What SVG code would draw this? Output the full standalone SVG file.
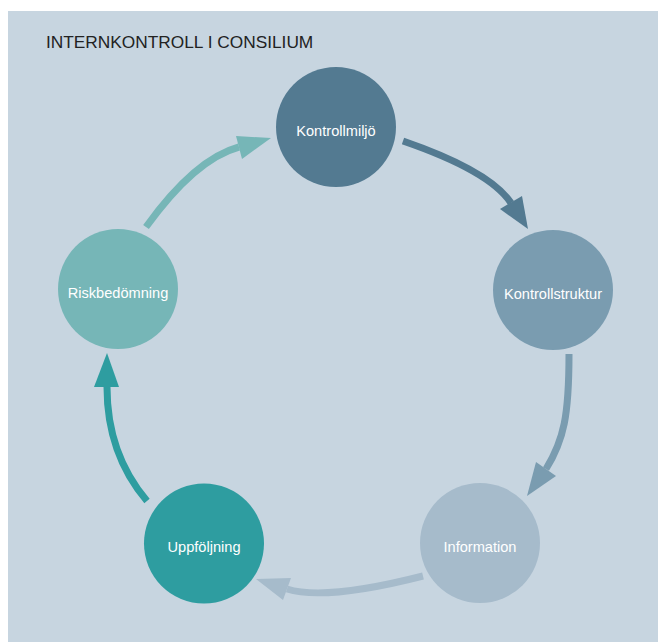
<svg xmlns="http://www.w3.org/2000/svg" width="658" height="642" viewBox="0 0 658 642">
<style>
.lbl{font-family:"Liberation Sans",Arial,sans-serif;font-size:14.6px;fill:#ffffff;text-anchor:middle}
.title{font-family:"Liberation Sans",Arial,sans-serif;font-size:17.3px;fill:#222222}
.ln{fill:none;stroke-width:7}
.c1{fill:#537a91}.s1{stroke:#537a91}
.c2{fill:#7a9cb0}.s2{stroke:#7a9cb0}
.c3{fill:#a6bbcb}.s3{stroke:#a6bbcb}
.c4{fill:#2e9da0}.s4{stroke:#2e9da0}
.c5{fill:#76b6b7}.s5{stroke:#76b6b7}
</style>
<rect x="0" y="0" width="658" height="642" fill="#ffffff"/>
<rect x="8" y="11" width="650" height="631" fill="#c7d5e0"/>
<text class="title" x="46" y="48">INTERNKONTROLL I CONSILIUM</text>
<g id="connectors">
<path class="ln s1" d="M403,141 Q490,171 511,203"/>
<polygon class="c1" points="528,229 500,209 522,196"/>
<path class="ln s2" d="M569,354 C569,415 564,440 546,469"/>
<polygon class="c2" points="527,496 536,462 556,476"/>
<path class="ln s3" d="M423,576 Q325,601 287,589"/>
<polygon class="c3" points="256,579 291,578 283,600"/>
<path class="ln s4" d="M147,501 Q107,454 107,387"/>
<polygon class="c4" points="107,353 94,387 119,387"/>
<path class="ln s5" d="M146,227 Q195,159 239,147"/>
<polygon class="c5" points="271,138 236,136 242,159"/>
</g>
<g id="node-kontrollmiljo">
<circle class="c1" cx="336" cy="127" r="60"/>
<text class="lbl" x="336" y="135.5">Kontrollmiljö</text>
</g>
<g id="node-kontrollstruktur">
<circle class="c2" cx="553" cy="290" r="60"/>
<text class="lbl" x="553" y="298.5">Kontrollstruktur</text>
</g>
<g id="node-information">
<circle class="c3" cx="480" cy="543" r="60"/>
<text class="lbl" x="480" y="551.5">Information</text>
</g>
<g id="node-uppfoljning">
<circle class="c4" cx="204" cy="543.5" r="60"/>
<text class="lbl" x="204" y="552">Uppföljning</text>
</g>
<g id="node-riskbedomning">
<circle class="c5" cx="118" cy="289" r="60"/>
<text class="lbl" x="118" y="297.5">Riskbedömning</text>
</g>
</svg>
